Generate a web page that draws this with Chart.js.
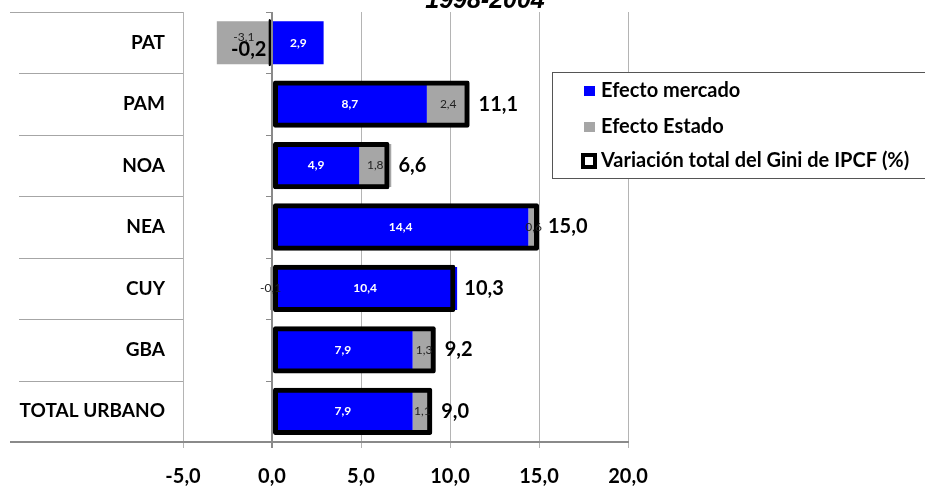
<!DOCTYPE html>
<html>
<head>
<meta charset="utf-8">
<script src="https://cdn.jsdelivr.net/npm/chart.js@4"></script>
<style>
  html, body { margin: 0; padding: 0; background: #fff; }
  #wrap { width: 925px; height: 488px; }
</style>
</head>
<body>
<div id="wrap"><canvas id="giniChart" width="925" height="488"></canvas></div>
<script>
// Regiones y efectos sobre la variación del Gini
const regiones = ['PAT', 'PAM', 'NOA', 'NEA', 'CUY', 'GBA', 'TOTAL URBANO'];
const efectoMercado = [2.9, 8.7, 4.9, 14.4, 10.4, 7.9, 7.9];
const efectoEstado = [-3.1, 2.4, 1.8, 0.6, -0.1, 1.3, 1.1];
const variacionTotal = [-0.2, 11.1, 6.6, 15.0, 10.3, 9.2, 9.0];
const ejeX = { min: -5, max: 20, step: 5 };

const FONT = 'Lato, "Open Sans", sans-serif';
const fmt = v => v.toFixed(1).replace('.', ',');

// lines around the category labels, ticks on the zero axis, title
const decorPlugin = {
  id: 'decor',
  beforeDatasetsDraw(chart) {
    const { ctx, chartArea, scales } = chart;
    const y = scales.y;
    const x0 = scales.x.getPixelForValue(0);
    const bounds = [chartArea.top];
    for (let i = 0; i < regiones.length - 1; i++) {
      bounds.push((y.getPixelForValue(i) + y.getPixelForValue(i + 1)) / 2);
    }
    ctx.save();
    ctx.strokeStyle = '#a6a6a6';
    ctx.lineWidth = 1;
    bounds.forEach((b, i) => {
      const yy = Math.round(b) + 0.5;
      ctx.beginPath();
      ctx.moveTo(i === 0 ? 10 : 19, yy);
      ctx.lineTo(chartArea.left, yy);
      ctx.stroke();
    });
    ctx.strokeStyle = '#8a8a8a';
    bounds.forEach(b => {
      const yy = Math.round(b) + 0.5;
      ctx.beginPath();
      ctx.moveTo(x0 - 6, yy);
      ctx.lineTo(x0, yy);
      ctx.stroke();
    });
    ctx.lineWidth = 2;
    ctx.beginPath();
    ctx.moveTo(10, chartArea.bottom);
    ctx.lineTo(chartArea.left, chartArea.bottom);
    ctx.stroke();
    ctx.restore();
  },
  afterDraw(chart) {
    const { ctx } = chart;
    ctx.save();
    ctx.fillStyle = '#000';
    ctx.font = 'italic bold 25px "Liberation Sans", sans-serif';
    ctx.textAlign = 'center';
    ctx.textBaseline = 'alphabetic';
    ctx.fillText('1998-2004', 485, 8);
    ctx.restore();
  }
};

// values written on and beside the bars
const labelPlugin = {
  id: 'barLabels',
  afterDatasetsDraw(chart) {
    const { ctx } = chart;
    const mMeta = chart.getDatasetMeta(0);
    const eMeta = chart.getDatasetMeta(1);
    const tMeta = chart.getDatasetMeta(2);
    ctx.save();
    ctx.textBaseline = 'middle';
    ctx.textAlign = 'center';
    regiones.forEach((r, i) => {
      const m = mMeta.data[i];
      const e = eMeta.data[i];
      const t = tMeta.data[i];
      const neg = variacionTotal[i] < 0;

      ctx.font = 'bold 12px ' + FONT;
      ctx.fillStyle = '#fff';
      ctx.fillText(fmt(efectoMercado[i]), (m.x + m.base) / 2, m.y);

      ctx.font = '12px ' + FONT;
      ctx.fillStyle = '#222';
      ctx.fillText(fmt(efectoEstado[i]), (e.x + e.base) / 2, e.y - (neg ? 6 : 0));

      ctx.font = 'bold 20px ' + FONT;
      ctx.fillStyle = '#000';
      if (neg) {
        ctx.textAlign = 'right';
        ctx.fillText(fmt(variacionTotal[i]), t.x - 2, t.y + 7);
      } else {
        ctx.textAlign = 'left';
        ctx.fillText(fmt(variacionTotal[i]), t.x + 9, t.y);
      }
      ctx.textAlign = 'center';
    });
    ctx.restore();
  }
};

// boxed legend sitting over the right side of the plot
const legendPlugin = {
  id: 'boxLegend',
  afterDraw(chart) {
    const { ctx } = chart;
    const left = 552, top = 72, bottom = 178;
    ctx.save();
    ctx.fillStyle = '#fff';
    ctx.fillRect(left, top, 925 - left, bottom - top);
    ctx.strokeStyle = '#555';
    ctx.lineWidth = 1;
    ctx.strokeRect(left + 0.5, top + 0.5, 925 - left, bottom - top);

    const items = chart.data.datasets;
    const rows = [91, 127, 161];
    ctx.font = 'bold 20px ' + FONT;
    ctx.textBaseline = 'middle';
    ctx.textAlign = 'left';
    items.forEach((ds, i) => {
      const cy = rows[i];
      if (i < 2) {
        ctx.fillStyle = ds.backgroundColor;
        ctx.fillRect(584, cy - 5, 11, 10);
      } else {
        ctx.fillStyle = '#000';
        ctx.fillRect(581, cy - 8, 16, 16);
        ctx.fillStyle = '#fff';
        ctx.fillRect(585, cy - 4, 8, 8);
      }
      ctx.fillStyle = '#000';
      ctx.fillText(ds.label, 601, cy);
    });
    ctx.restore();
  }
};

const ctx = document.getElementById('giniChart').getContext('2d');
new Chart(ctx, {
  type: 'bar',
  data: {
    labels: regiones,
    datasets: [
      {
        label: 'Efecto mercado',
        data: efectoMercado,
        backgroundColor: '#0000ff',
        stack: 'efectos',
        grouped: false,
        barPercentage: 0.7,
        categoryPercentage: 1,
        order: 1
      },
      {
        label: 'Efecto Estado',
        data: efectoEstado,
        backgroundColor: '#a6a6a6',
        stack: 'efectos',
        grouped: false,
        barPercentage: 0.7,
        categoryPercentage: 1,
        order: 1
      },
      {
        label: 'Variación total del Gini de IPCF (%)',
        data: variacionTotal,
        backgroundColor: 'rgba(0,0,0,0)',
        borderColor: '#000',
        borderWidth: 5,
        borderSkipped: false,
        borderRadius: 2,
        stack: 'total',
        grouped: false,
        barPercentage: 0.77,
        categoryPercentage: 1,
        order: 0
      }
    ]
  },
  options: {
    indexAxis: 'y',
    responsive: false,
    animation: false,
    layout: { padding: { top: 12, right: 297, left: 0, bottom: 0 } },
    plugins: {
      legend: { display: false },
      tooltip: { enabled: false }
    },
    scales: {
      x: {
        stacked: true,
        min: ejeX.min,
        max: ejeX.max,
        afterFit(scale) {
          scale.height = 46;
          scale.paddingLeft = 0;
          scale.paddingRight = 0;
        },
        ticks: {
          stepSize: ejeX.step,
          padding: 17,
          color: '#000',
          font: { family: FONT, size: 20, weight: 'bold' },
          callback: v => fmt(v)
        },
        grid: {
          color: c => (c.tick && c.tick.value === 0 ? '#8a8a8a' : '#b4b4b4'),
          lineWidth: c => (c.tick && c.tick.value === 0 ? 2 : 1),
          tickLength: 6
        },
        border: { color: '#8a8a8a', width: 2 }
      },
      y: {
        stacked: true,
        afterFit(scale) {
          scale.width = 183;
          scale.paddingTop = 0;
          scale.paddingBottom = 0;
        },
        ticks: {
          padding: 10,
          color: '#000',
          font: { family: FONT, size: 19, weight: 'bold' }
        },
        grid: { display: false },
        border: { display: false }
      }
    }
  },
  plugins: [decorPlugin, labelPlugin, legendPlugin]
});
</script>
</body>
</html>
